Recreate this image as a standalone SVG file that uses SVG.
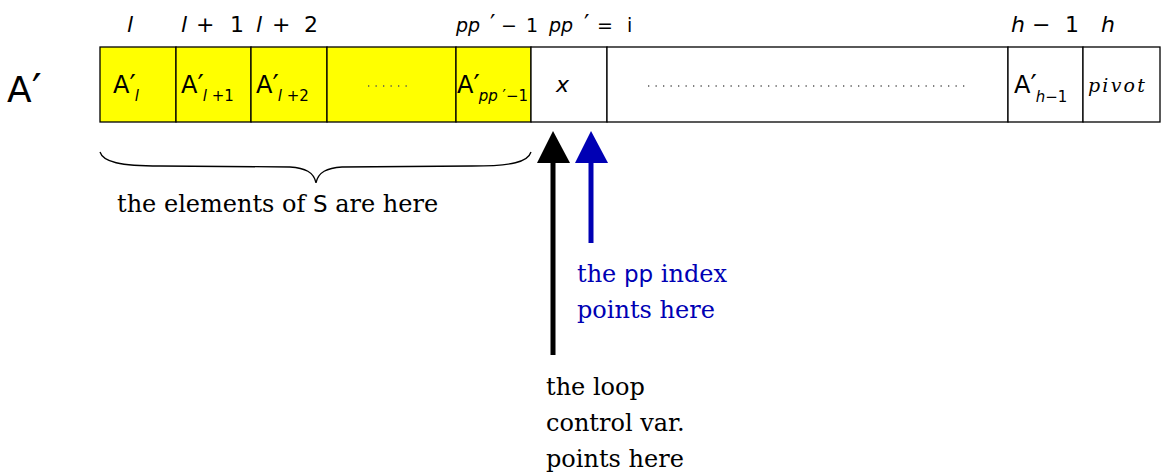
<svg xmlns="http://www.w3.org/2000/svg" width="1168" height="475" viewBox="0 0 1168 475">
<style>
.cell{stroke:#000;stroke-width:1.3}
.y{fill:#ffff00}
.w{fill:#fff}
.m{font-family:"DejaVu Sans",sans-serif;font-size:22px;fill:#000}
.c{font-size:24px}
.i{font-style:italic}
.sub{font-size:15px}
.pr{font-size:28px}
.s{font-family:"DejaVu Serif","Liberation Serif",serif;font-size:24px}
.dots{stroke:#555;stroke-width:1.3;stroke-dasharray:1.3 6.2}
</style>
<rect width="1168" height="475" fill="#fff"/>
<text class="m" x="7" y="102" style="font-size:36px">A<tspan style="font-size:44px" dy="4">′</tspan></text>
<g id="labels" class="m">
<text class="i" x="127" y="32">l</text>
<text y="32"><tspan class="i" x="181">l</tspan><tspan x="196">+</tspan><tspan x="230">1</tspan></text>
<text y="32"><tspan class="i" x="256">l</tspan><tspan x="272">+</tspan><tspan x="304">2</tspan></text>
<text y="32" style="font-size:19px"><tspan class="i" x="456">pp</tspan><tspan x="490" style="font-size:24px">′</tspan><tspan x="501">−</tspan><tspan x="526">1</tspan></text>
<text y="32" style="font-size:19px"><tspan class="i" x="549">pp</tspan><tspan x="584" style="font-size:24px">′</tspan><tspan x="597">=</tspan><tspan x="627">i</tspan></text>
<text y="32"><tspan class="i" x="1011">h</tspan><tspan x="1032">−</tspan><tspan x="1065">1</tspan></text>
<text class="i" x="1101" y="32">h</text>
</g>
<g id="cell-l"><rect class="cell y" x="100" y="47" width="76" height="75"/><text class="m c" x="113" y="93">A<tspan class="pr" dy="2">′</tspan><tspan class="sub i" dx="-1" dy="6">l</tspan></text></g>
<g id="cell-l1"><rect class="cell y" x="176" y="47" width="75" height="75"/><text class="m c" x="181" y="93">A<tspan class="pr" dy="2">′</tspan><tspan class="sub" dx="-1" dy="6"><tspan class="i">l</tspan> +1</tspan></text></g>
<g id="cell-l2"><rect class="cell y" x="251" y="47" width="76" height="75"/><text class="m c" x="256" y="93">A<tspan class="pr" dy="2">′</tspan><tspan class="sub" dx="-1" dy="6"><tspan class="i">l</tspan> +2</tspan></text></g>
<g id="cell-dots"><rect class="cell y" x="327" y="47" width="129" height="75"/><line class="dots" x1="368" y1="86" x2="412" y2="86"/></g>
<g id="cell-pp1"><rect class="cell y" x="456" y="47" width="75" height="75"/><text class="m c" x="457" y="93">A<tspan class="pr" dy="2">′</tspan><tspan class="sub" dx="-1" dy="6"><tspan class="i">pp</tspan> ′−1</tspan></text><rect x="531.7" y="60" width="6" height="50" fill="#fff"/></g>
<g id="cell-x"><rect class="cell w" x="531" y="47" width="76" height="75"/><text class="m i" x="556" y="92">x</text></g>
<g id="cell-mid"><rect class="cell w" x="607" y="47" width="401" height="75"/><line class="dots" x1="648" y1="86" x2="965" y2="86"/></g>
<g id="cell-h1"><rect class="cell w" x="1008" y="47" width="75" height="75"/><text class="m c" x="1014" y="93">A<tspan class="pr" dy="2">′</tspan><tspan class="sub" dx="-1" dy="7"><tspan class="i">h</tspan>−1</tspan></text></g>
<g id="cell-h"><rect class="cell w" x="1083" y="47" width="77" height="75"/><text x="1088" y="92" font-family="DejaVu Serif, serif" font-style="italic" font-size="19" letter-spacing="2.2">pivot</text></g>
<g id="connectors">
<path d="M100,152 C103,162 120,166 160,166 L290,167 C305,168 314,172 316,183 C318,172 327,168 342,167 L472,166 C512,166 528,162 531,152" fill="none" stroke="#000" stroke-width="1.3"/>
<line x1="553" y1="355" x2="553" y2="160" stroke="#000" stroke-width="5"/>
<polygon points="553,131 537,163 570,163" fill="#000"/>
<line x1="591" y1="243" x2="591" y2="160" stroke="#0000b4" stroke-width="5"/>
<polygon points="591,131 575,163 608,163" fill="#0000b4"/>
</g>
<g id="texts" class="s">
<text x="117" y="212">the elements of <tspan font-family="DejaVu Sans" font-size="23">S</tspan> are here</text>
<text x="577" y="282" fill="#0000b4">the <tspan font-family="DejaVu Sans" font-size="23">pp</tspan> index</text>
<text x="577" y="318" fill="#0000b4">points here</text>
<text x="546" y="395">the loop</text>
<text x="546" y="431">control var.</text>
<text x="546" y="467">points here</text>
</g>
</svg>
